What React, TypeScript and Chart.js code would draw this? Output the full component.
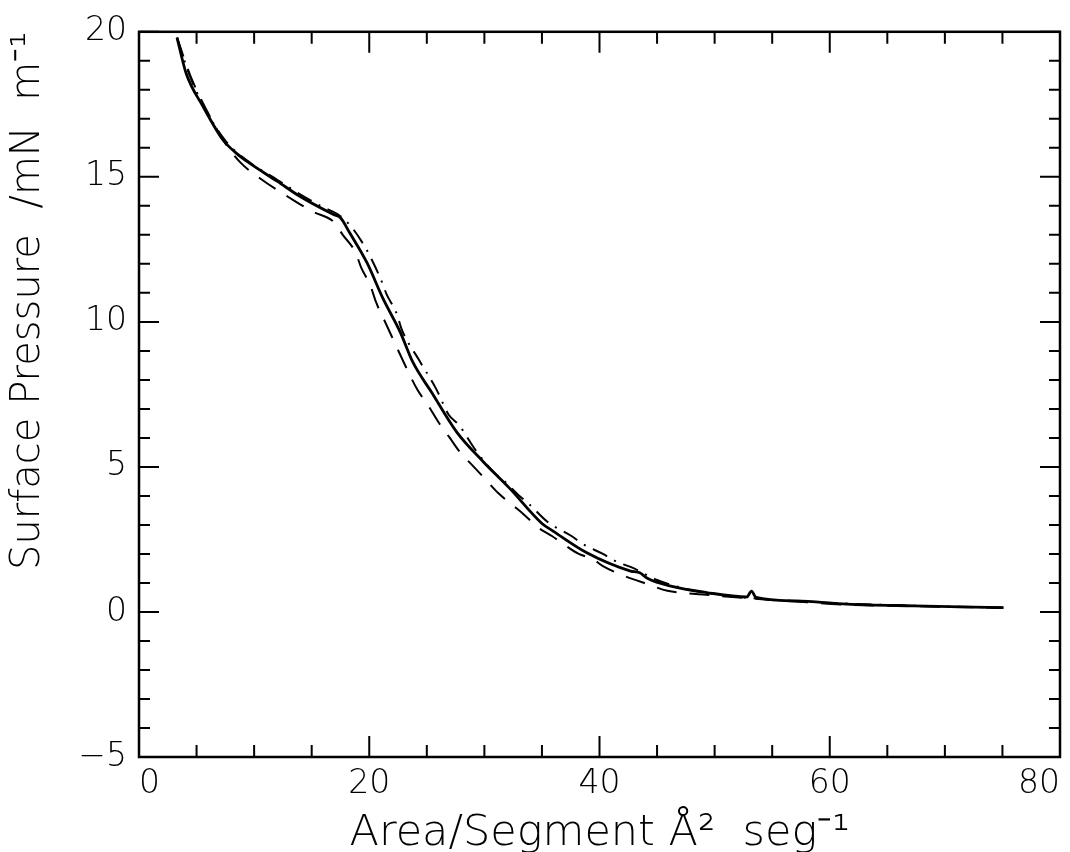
import React, { useEffect, useRef } from "react";
import { Chart, registerables } from "chart.js";

Chart.register(...registerables);

// Solid curve
const areaSolid = [3.3, 4.1, 5.6, 7.3, 8.5, 9.6, 12.0, 14.0, 16.9, 17.5, 18.3, 19.8, 21.2, 22.7, 23.8, 25.4, 27.6, 29.9, 32.2, 35.0, 36.0, 38.9, 42.7, 43.5, 44.2, 46.1, 49.3, 52.8, 53.2, 53.6, 57.1, 61.5, 67.3, 75.1];
const pressureSolid = [19.8, 18.56, 17.4, 16.27, 15.8, 15.47, 14.85, 14.32, 13.7, 13.59, 13.07, 12.04, 10.8, 9.64, 8.6, 7.58, 6.2, 5.18, 4.26, 3.05, 2.78, 2.04, 1.41, 1.35, 1.15, 0.9, 0.67, 0.52, 0.72, 0.5, 0.38, 0.27, 0.21, 0.15];

// Long-dashed curve
const areaDashed = [3.3, 4.5, 6.0, 7.5, 8.8, 10.5, 13.4, 15.1, 16.9, 17.7, 18.8, 19.3, 20.1, 20.6, 21.4, 23.4, 24.2, 25.1, 26.0, 27.0, 27.9, 28.9, 30.1, 31.2, 32.4, 33.4, 34.7, 35.9, 36.9, 38.2, 39.4, 40.3, 41.8, 42.9, 44.1, 45.9, 49.0, 53.0, 57.0, 61.0, 67.0, 75.0];
const pressureDashed = [19.8, 18.45, 17.2, 16.15, 15.5, 14.95, 14.2, 13.8, 13.45, 13.0, 12.4, 11.87, 11.25, 10.67, 9.98, 8.27, 7.65, 7.13, 6.55, 6.0, 5.5, 5.08, 4.57, 4.1, 3.7, 3.37, 2.9, 2.61, 2.33, 2.0, 1.83, 1.58, 1.3, 1.13, 0.97, 0.73, 0.6, 0.47, 0.36, 0.26, 0.2, 0.14];

// Dash-dot curve
const areaDashDot = [3.3, 4.3, 5.8, 7.5, 9.6, 12.0, 14.0, 16.0, 17.3, 18.4, 19.5, 20.2, 21.0, 21.5, 22.4, 22.8, 24.3, 25.8, 26.9, 27.8, 29.2, 30.9, 31.6, 33.1, 33.8, 35.5, 37.6, 38.6, 40.3, 41.4, 43.0, 45.0, 48.0, 52.0, 57.0, 62.0, 68.0, 75.0];
const pressureDashDot = [19.8, 18.6, 17.3, 16.25, 15.5, 14.9, 14.4, 13.95, 13.7, 13.3, 12.67, 12.16, 11.47, 10.96, 10.27, 9.76, 8.7, 7.7, 6.8, 6.44, 5.6, 4.78, 4.56, 3.98, 3.75, 3.1, 2.61, 2.33, 2.0, 1.75, 1.5, 1.1, 0.75, 0.52, 0.38, 0.28, 0.21, 0.15];

const xMin = 0, xMax = 80, xStep = 5, xMajor = 20;
const yMin = -5, yMax = 20, yStep = 1, yMajor = 5;

const xTitle = "Area/Segment Å²  seg⁻¹";
const yTitle = "Surface Pressure  /mN  m⁻¹";

const FONT = '"DejaVu Sans", "Liberation Sans", sans-serif';

const toPoints = (xs: number[], ys: number[]) => xs.map((x, i) => ({ x, y: ys[i] }));

const frameTicks = {
  id: "frameTicks",
  afterDatasetsDraw(chart: any) {
    const { ctx, chartArea, scales } = chart;
    const { left, right, top, bottom } = chartArea;
    const xs = scales.x, ys = scales.y;
    ctx.save();
    ctx.strokeStyle = "#000";
    ctx.lineWidth = 2;
    ctx.beginPath();
    for (const t of xs.ticks) {
      const px = xs.getPixelForValue(t.value);
      const len = t.value % xMajor === 0 ? 21 : 12;
      ctx.moveTo(px, bottom);
      ctx.lineTo(px, bottom - len);
      ctx.moveTo(px, top);
      ctx.lineTo(px, top + len);
    }
    for (const t of ys.ticks) {
      const py = ys.getPixelForValue(t.value);
      const len = t.value % yMajor === 0 ? 20 : 11;
      ctx.moveTo(left, py);
      ctx.lineTo(left + len, py);
      ctx.moveTo(right, py);
      ctx.lineTo(right - len, py);
    }
    ctx.stroke();
    ctx.lineWidth = 2.5;
    ctx.strokeRect(left, top, right - left, bottom - top);
    ctx.restore();
  },
};

export default function App() {
  const ref = useRef<HTMLCanvasElement | null>(null);

  useEffect(() => {
    if (!ref.current) return;
    const chart = new Chart(ref.current, {
      type: "line",
      data: {
        datasets: [
          {
            label: "solid",
            data: toPoints(areaSolid, pressureSolid),
            borderColor: "#000",
            borderWidth: 2.8,
            pointRadius: 0,
            cubicInterpolationMode: "monotone",
            fill: false,
          },
          {
            label: "dashed",
            data: toPoints(areaDashed, pressureDashed),
            borderColor: "#000",
            borderWidth: 2,
            borderDash: [20, 13],
            pointRadius: 0,
            cubicInterpolationMode: "monotone",
            fill: false,
          },
          {
            label: "dashdot",
            data: toPoints(areaDashDot, pressureDashDot),
            borderColor: "#000",
            borderWidth: 2,
            borderDash: [16, 8, 2, 8],
            pointRadius: 0,
            cubicInterpolationMode: "monotone",
            fill: false,
          },
        ],
      },
      options: {
        animation: false,
        responsive: false,
        devicePixelRatio: 1,
        layout: { padding: { top: 28, right: 10, left: 0, bottom: 0 } },
        plugins: { legend: { display: false }, tooltip: { enabled: false } },
        scales: {
          x: {
            type: "linear",
            min: xMin,
            max: xMax,
            grid: { display: false, drawTicks: false },
            border: { display: false },
            ticks: {
              stepSize: xStep,
              autoSkip: false,
              maxRotation: 0,
              align: "inner",
              padding: 8,
              color: "#000",
              font: { family: FONT, size: 33, weight: "200" },
              callback: (v: any) => (Number(v) % xMajor === 0 ? String(v) : ""),
            },
            title: {
              display: true,
              text: xTitle,
              color: "#000",
              font: { family: FONT, size: 43, weight: "200" },
              padding: { top: 0, bottom: -8 },
            },
            afterFit: (s: any) => {
              s.height = 95;
            },
          },
          y: {
            type: "linear",
            min: yMin,
            max: yMax,
            grid: { display: false, drawTicks: false },
            border: { display: false },
            ticks: {
              stepSize: yStep,
              autoSkip: false,
              padding: 12,
              color: "#000",
              font: { family: FONT, size: 33, weight: "200" },
              callback: (v: any) => {
                const n = Number(v);
                if (n % yMajor !== 0) return "";
                return n < 0 ? "−" + Math.abs(n) : String(n);
              },
            },
            title: {
              display: true,
              text: yTitle,
              align: "end",
              color: "#000",
              font: { family: FONT, size: 40, weight: "200" },
              padding: { top: 5, bottom: 0 },
            },
            afterFit: (s: any) => {
              s.width = 139;
            },
          },
        },
      },
      plugins: [frameTicks],
    });
    return () => chart.destroy();
  }, []);

  return (
    <div style={{ position: "fixed", left: 0, top: 0, width: 1070, height: 852, background: "#fff" }}>
      <canvas ref={ref} width={1070} height={852} />
    </div>
  );
}
